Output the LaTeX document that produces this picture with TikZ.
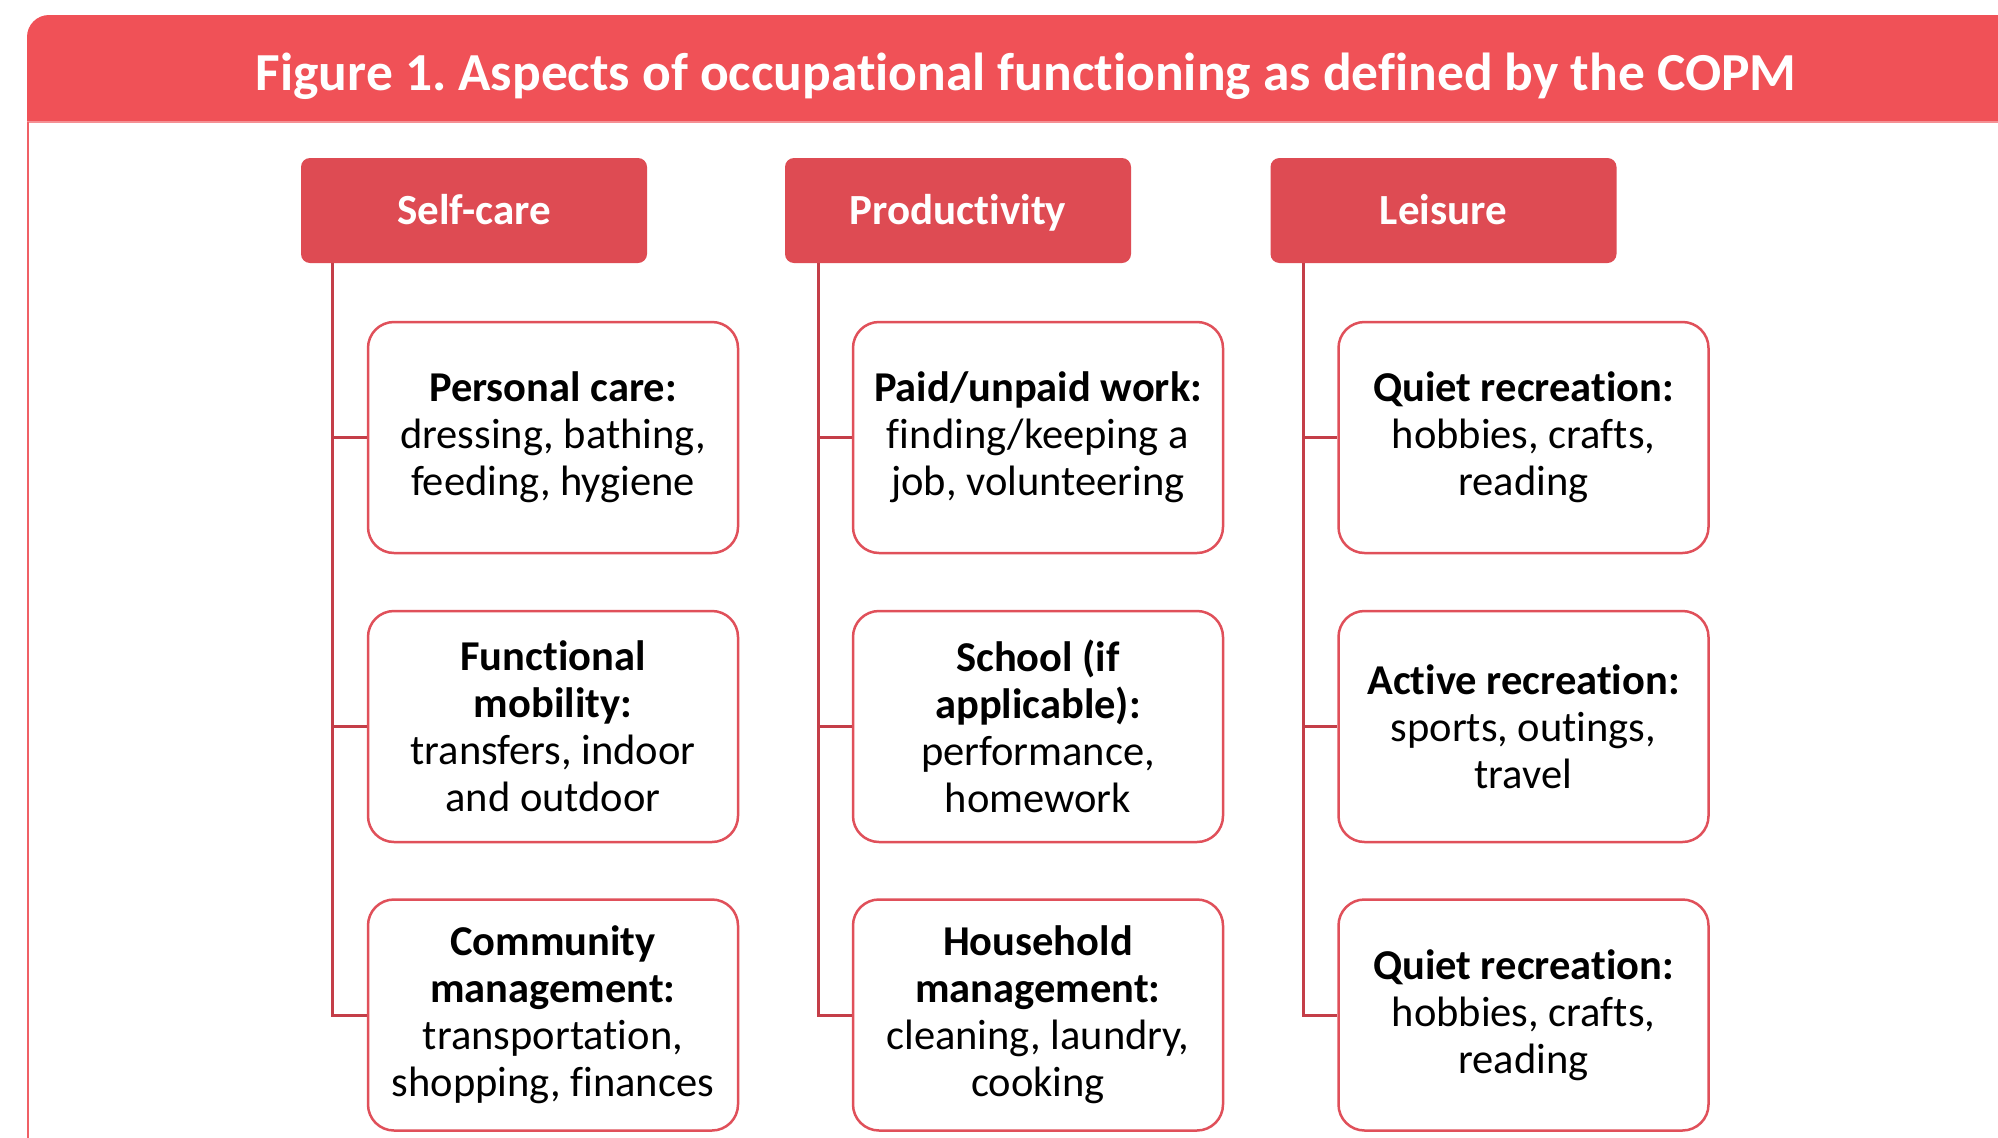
\documentclass[tikz,border=0pt]{standalone}
\usepackage{fontspec}
\setmainfont{Carlito}[Ligatures=NoCommon]
\frenchspacing

\definecolor{headred}{RGB}{240,81,87}
\definecolor{catred}{RGB}{222,75,83}
\definecolor{itemred}{RGB}{224,80,90}
\definecolor{linkred}{RGB}{196,62,72}
\definecolor{framered}{RGB}{240,96,102}

\begin{document}
\begin{tikzpicture}[x=1pt, y=-1pt,
	cat/.style={fill=catred, rounded corners=9pt, text=white, inner sep=0pt,
		minimum width=346pt, minimum height=105pt, text height=28pt, text depth=0pt,
		font=\fontsize{43}{48}\selectfont\bfseries},
	item/.style={draw=itemred, line width=2.5pt, fill=white, rounded corners=26pt,
		minimum width=370pt, minimum height=231pt, inner sep=0pt, align=center,
		font=\fontsize{42.5}{47}\selectfont},
	link/.style={draw=linkred, line width=3pt}]

	\useasboundingbox (0,0) rectangle (1998,1138);
	\fill[white] (0,0) rectangle (1998,1138);
	\clip (0,0) rectangle (1998,1138);

	% frame and heading band
	\fill[headred] (27,122) -- (27,37) arc[start angle=180, end angle=90, radius=22pt] -- (2030,15) -- (2030,122) -- cycle;
	\draw[framered!70!white, line width=1.5pt] (27,122) -- (2030,122);
	\draw[framered, line width=2.5pt] (28,122) -- (28,1160);
	\node[anchor=base, text=white, font=\fontsize{53.5}{60}\selectfont\bfseries] (title) at (1026,90)
		{Figure 1. Aspects of occupational functioning as defined by the COPM};

	% the three areas
	\node[cat] (selfcare) at (474,210.5) {Self-care};
	\node[cat] (product) at (958,210.5) {Productivity};
	\node[cat] (leisure) at (1443.5,210.5) {Leisure};

	\node[item] (sc1) at (553,437.5) {\textbf{Personal care:}\\dressing, bathing,\\feeding, hygiene};
	\node[item] (sc2) at (553,726.5) {\textbf{Functional}\\\textbf{mobility:}\\transfers, indoor\\and outdoor};
	\node[item] (sc3) at (553,1015) {\textbf{Community}\\\textbf{management:}\\transportation,\\shopping, finances};

	\node[item] (pr1) at (1038,437.5) {\textbf{Paid/unpaid work:}\\finding/keeping a\\job, volunteering};
	\node[item] (pr2) at (1038,726.5) {\textbf{School (if}\\\textbf{applicable):}\\performance,\\homework};
	\node[item] (pr3) at (1038,1015) {\textbf{Household}\\\textbf{management:}\\cleaning, laundry,\\cooking};

	\node[item] (le1) at (1523.5,437.5) {\textbf{Quiet recreation:}\\hobbies, crafts,\\reading};
	\node[item] (le2) at (1523.5,726.5) {\textbf{Active recreation:}\\sports, outings,\\travel};
	\node[item] (le3) at (1523.5,1015) {\textbf{Quiet recreation:}\\hobbies, crafts,\\reading};

	% stems
	\draw[link] ([xshift=32pt]selfcare.south west) |- (sc1.west);
	\draw[link] ([xshift=32pt]selfcare.south west) |- (sc2.west);
	\draw[link] ([xshift=32pt]selfcare.south west) |- (sc3.west);
	\draw[link] ([xshift=34pt]product.south west) |- (pr1.west);
	\draw[link] ([xshift=34pt]product.south west) |- (pr2.west);
	\draw[link] ([xshift=34pt]product.south west) |- (pr3.west);
	\draw[link] ([xshift=33pt]leisure.south west) |- (le1.west);
	\draw[link] ([xshift=33pt]leisure.south west) |- (le2.west);
	\draw[link] ([xshift=33pt]leisure.south west) |- (le3.west);

\end{tikzpicture}
\end{document}
